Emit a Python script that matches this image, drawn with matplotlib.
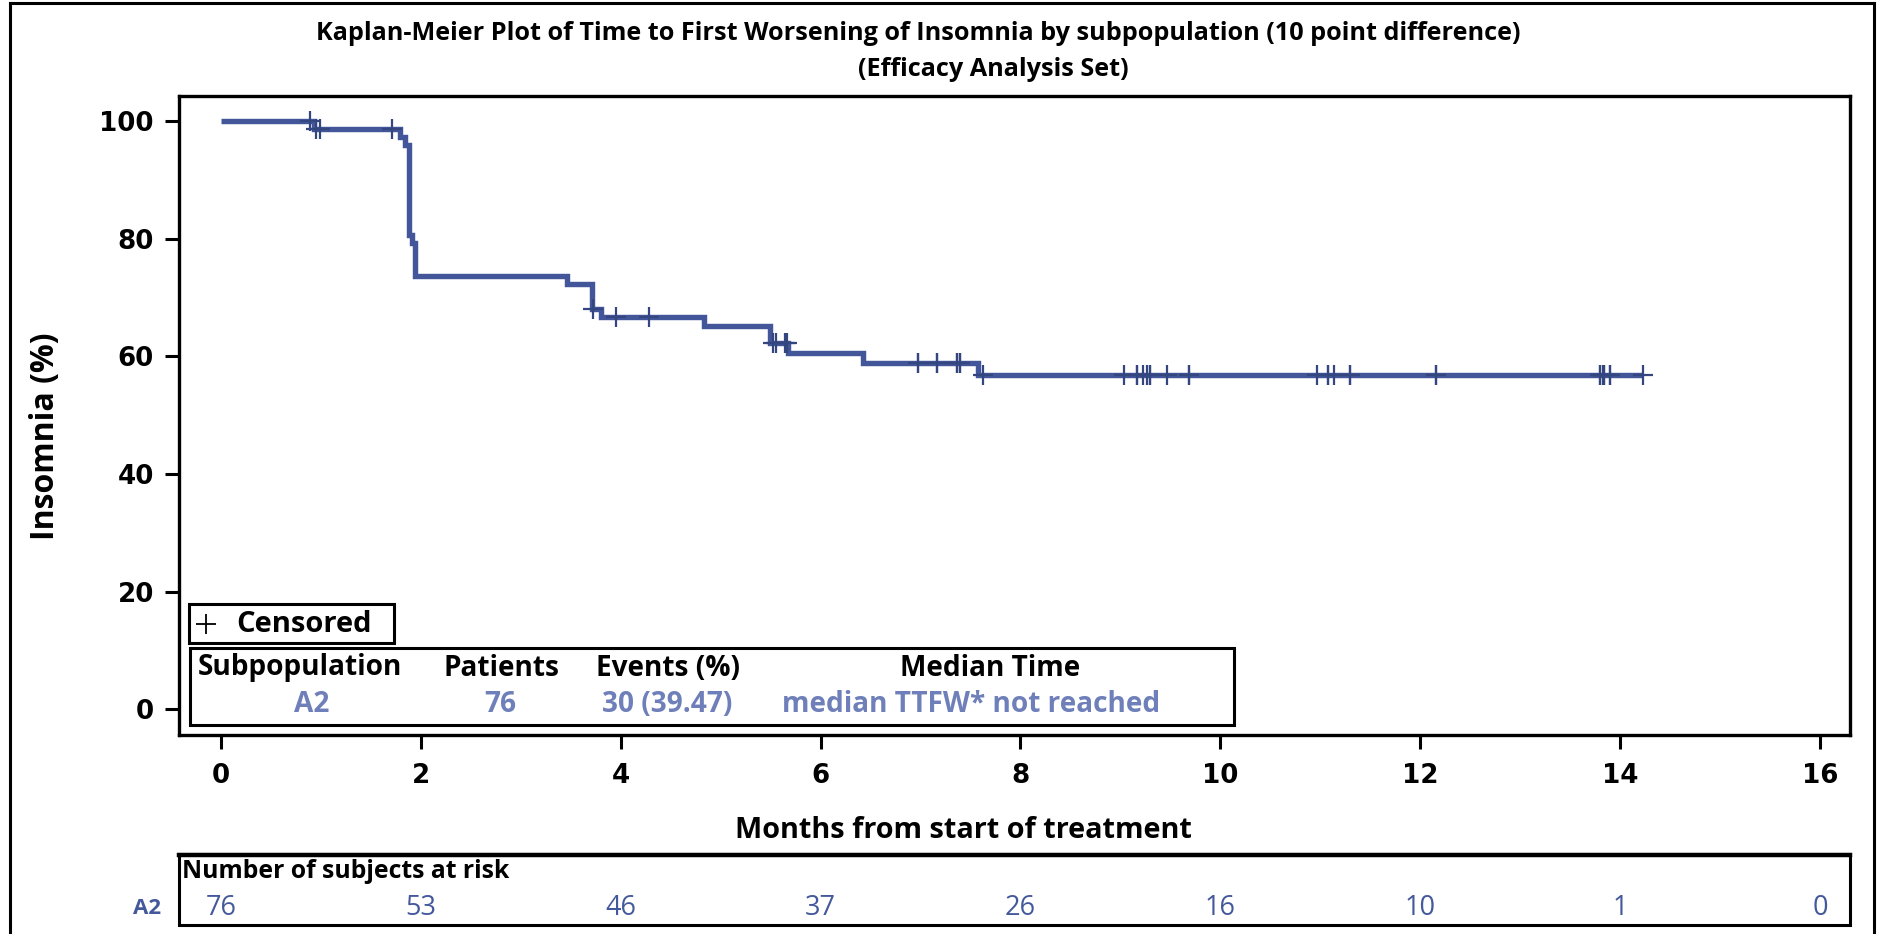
import numpy as np
import matplotlib
matplotlib.use("Agg")
import matplotlib.pyplot as plt
from matplotlib import transforms
from matplotlib.patches import Rectangle
from matplotlib.lines import Line2D

# ---------------- data ----------------
n_patients = 76
event_times = ([0.93, 1.79, 1.84] + [1.88] * 11 + [1.91] + [1.94] * 4 + [3.46]
               + [3.71] * 3 + [3.80, 4.83] + [5.49] * 2 + [5.67, 6.42, 7.57])
censor_times = [0.89, 0.95, 0.99, 1.71, 3.72, 3.95, 4.28, 5.52, 5.55, 5.64, 5.66,
                6.97, 6.97, 7.16, 7.16, 7.36, 7.36, 7.39, 7.39, 7.62,
                9.04, 9.17, 9.17, 9.23, 9.27, 9.30, 9.30, 9.47, 9.69, 9.69,
                10.97, 11.08, 11.08, 11.14, 11.30, 11.30,
                12.16, 12.16, 13.80, 13.80, 13.83, 13.84, 13.84, 13.90, 13.90,
                14.23]
x_ticks = [0, 2, 4, 6, 8, 10, 12, 14, 16]
y_ticks = [0, 20, 40, 60, 80, 100]
at_risk = [76, 53, 46, 37, 26, 16, 10, 1, 0]
group = "A2"
table_headers = ["Subpopulation", "Patients", "Events (%)", "Median Time"]
table_values = ["A2", "76", "30 (39.47)", "median TTFW* not reached"]

title1 = "Kaplan-Meier Plot of Time to First Worsening of Insomnia by subpopulation (10 point difference)"
title2 = "(Efficacy Analysis Set)"

# ---------------- Kaplan-Meier estimate ----------------
ev = np.array(event_times)
ce = np.array(censor_times)
all_t = np.concatenate([ev, ce])
times = np.unique(all_t)
surv = 100.0
step_t = [0.0]
step_s = [100.0]
s_at = {}
for t in times:
    n = np.sum(all_t >= t - 1e-9)
    d = np.sum(np.isclose(ev, t))
    if d > 0:
        surv *= (1 - d / n)
    s_at[t] = surv
    step_t.append(t)
    step_s.append(surv)
cens_y = [s_at[t] for t in ce]

# ---------------- figure ----------------
W, H = 1881, 934
fig = plt.figure(figsize=(W / 100, H / 100), dpi=100)
fig.patch.set_facecolor("white")

def fx(px):
    return px / W

def fy(py):
    return 1 - py / H

curve_col = "#43569A"
mark_col = "#34467F"
val_col = "#6E7FB9"
risk_col = "#44589C"
sans = ["Open Sans", "DejaVu Sans"]

ax = fig.add_axes([fx(179), fy(735), fx(1850) - fx(179), fy(96) - fy(735)])
ax.step(step_t, step_s, where="post", color=curve_col, lw=3.9,
        solid_joinstyle="miter", solid_capstyle="butt", zorder=3)
ax.plot(ce, cens_y, ls="none", marker="+", ms=15, mew=1.6, color=mark_col, zorder=4)

ax.set_xlim(-0.42, 16.30)
ax.set_ylim(-4.4, 104.3)
ax.set_xticks(x_ticks)
ax.set_yticks(y_ticks)
for sp in ax.spines.values():
    sp.set_linewidth(2.4)
ax.tick_params(axis="both", direction="out", width=2.2, length=10, colors="black")
ax.tick_params(axis="x", pad=10)
ax.tick_params(axis="y", pad=8)
for lab in ax.get_xticklabels() + ax.get_yticklabels():
    lab.set_fontfamily("DejaVu Sans")
    lab.set_fontweight("bold")
    lab.set_fontsize(18.8)

# titles and axis labels
fig.text(fx(918), fy(34), title1, ha="center", va="center", fontsize=18.2,
         fontweight="bold", family=sans)
fig.text(fx(993), fy(70), title2, ha="center", va="center", fontsize=18.2,
         fontweight="bold", family=sans)
fig.text(fx(46), fy(436), "Insomnia (%)", ha="center", va="center", rotation=90,
         fontsize=23, fontweight="bold", family=sans)
fig.text(fx(963), fy(830), "Months from start of treatment", ha="center", va="center",
         fontsize=20.8, fontweight="bold", family=sans)

# censored legend box
fig.add_artist(Rectangle((fx(189), fy(643)), fx(394.5) - fx(189), fy(604) - fy(643),
                         transform=fig.transFigure, fill=False, lw=2.2, ec="black"))
fig.add_artist(Line2D([fx(206)], [fy(624)], transform=fig.transFigure, marker="+",
                      ms=15, mew=1.3, color="black"))
fig.text(fx(236), fy(624), "Censored", ha="left", va="center", fontsize=21,
         fontweight="bold", family=sans)

# summary table box
fig.add_artist(Rectangle((fx(190), fy(725)), fx(1234) - fx(190), fy(648) - fy(725),
                         transform=fig.transFigure, fill=False, lw=2.2, ec="black"))
head_x = [198, 501, 668, 990]
head_ha = ["left", "center", "center", "center"]
val_x = [312, 500, 667, 971]
for hx, ha, txt in zip(head_x, head_ha, table_headers):
    fig.text(fx(hx), fy(668), txt, ha=ha, va="center", fontsize=20.2,
             fontweight="bold", family=sans)
for vx, txt in zip(val_x, table_values):
    fig.text(fx(vx), fy(704), txt, ha="center", va="center", fontsize=20.2,
             fontweight="bold", family=sans, color=val_col)

# number at risk box
fig.add_artist(Rectangle((fx(179), fy(925)), fx(1850) - fx(179), fy(854) - fy(925),
                         transform=fig.transFigure, fill=False, lw=2.2, ec="black"))
fig.add_artist(Line2D([fx(179), fx(1850)], [fy(855), fy(855)], transform=fig.transFigure,
                      color="black", lw=3.2))
fig.text(fx(182), fy(872), "Number of subjects at risk", ha="left", va="center",
         fontsize=17.8, fontweight="bold", family=sans)
blend = transforms.blended_transform_factory(ax.transData, fig.transFigure)
for xt, n in zip(x_ticks, at_risk):
    fig.text(xt, fy(908), str(n), transform=blend, ha="center", va="center",
             fontsize=19.5, family=sans, color=risk_col)
fig.text(fx(161), fy(908), group, ha="right", va="center", fontsize=16,
         fontweight="bold", family=sans, color=risk_col)

# outer frame
for xs, ys in [([fx(10), fx(10)], [fy(3), 0]),
               ([fx(1874), fx(1874)], [fy(3), 0]),
               ([fx(10), fx(1874)], [fy(3), fy(3)])]:
    fig.add_artist(Line2D(xs, ys, transform=fig.transFigure, color="black", lw=2.2))

fig.savefig("out.png", dpi=100, facecolor="white")
